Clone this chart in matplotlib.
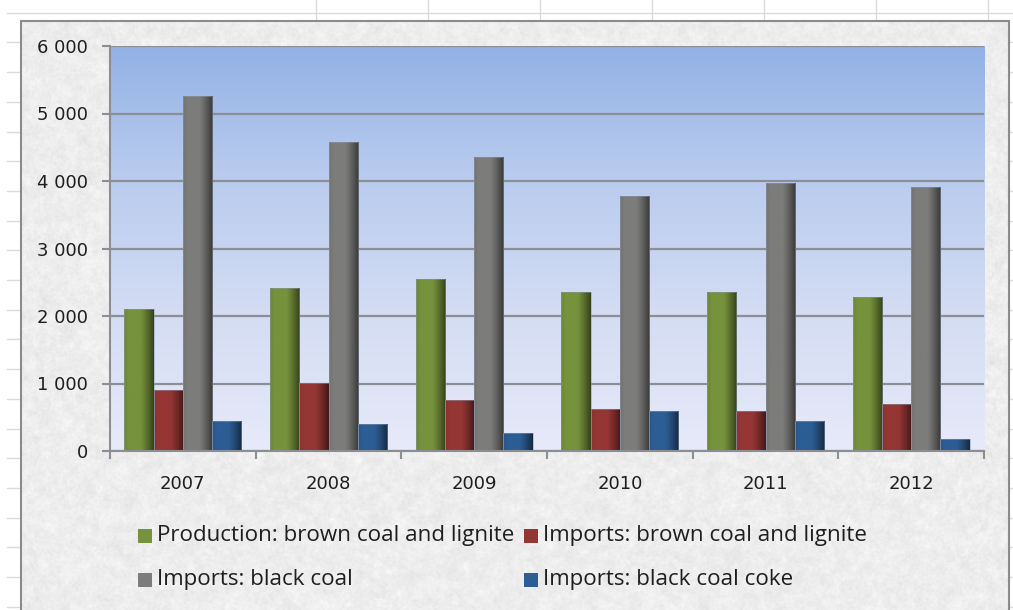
import numpy as np
import matplotlib
matplotlib.use("Agg")
import matplotlib.pyplot as plt
from matplotlib.patches import Rectangle
from matplotlib.lines import Line2D
from matplotlib.colors import to_rgb, LinearSegmentedColormap

# ---- data -------------------------------------------------------------
years = ["2007", "2008", "2009", "2010", "2011", "2012"]
series_names = [
    "Production: brown coal and lignite",
    "Imports: brown coal and lignite",
    "Imports: black coal",
    "Imports: black coal coke",
]
production_brown = [2100, 2410, 2545, 2360, 2360, 2280]
imports_brown = [910, 1010, 755, 620, 600, 700]
imports_black = [5260, 4580, 4355, 3780, 3965, 3915]
imports_coke = [445, 395, 265, 600, 445, 180]
y_ticks = [0, 1000, 2000, 3000, 4000, 5000, 6000]

series_values = [production_brown, imports_brown, imports_black, imports_coke]
series_colors = ["#76923c", "#943634", "#7c7d7a", "#2c5d94"]

# ---- figure in pixel units ---------------------------------------------
W, H = 1013, 610
fig = plt.figure(figsize=(W / 100, H / 100), dpi=100)
fig.patch.set_facecolor("white")


def fx(px):
    return px / W


def fy(py):
    return 1 - py / H


# worksheet cell grid behind the chart object
grid_col = "#d9dbde"
for k in range(22):
    yy = 12.7 + k * 29.7
    fig.add_artist(Line2D([fx(7), 1], [fy(yy), fy(yy)], color=grid_col, lw=1.0, zorder=0))
for k in range(7):
    xx = 316 + 112 * k
    fig.add_artist(Line2D([fx(xx), fx(xx)], [0, 1], color=grid_col, lw=1.0, zorder=0))

# chart area with a speckled stone texture
rng = np.random.default_rng(11)
th, tw = 600, 990
noise = rng.random((th, tw))
sm = noise.copy()
for dy in (-1, 0, 1):
    for dx in (-1, 0, 1):
        sm += np.roll(np.roll(noise, dy, 0), dx, 1)
sm /= 10.0
blob = rng.random((th // 6 + 1, tw // 6 + 1))
blob = np.kron(blob, np.ones((6, 6)))[:th, :tw]
b2 = blob.copy()
for dy in (-3, 0, 3):
    for dx in (-3, 0, 3):
        b2 += np.roll(np.roll(blob, dy, 0), dx, 1)
b2 /= 10.0
tex = 0.932 + 0.09 * (sm - 0.5) + 0.05 * (b2 - 0.5)
tex = np.clip(tex, 0.80, 1.0)

bgax = fig.add_axes([fx(21), 0, fx(1009) - fx(21), fy(21)], zorder=1)
bgax.imshow(np.dstack([tex, tex, tex]), extent=(0, 1, 0, 1), aspect="auto",
            interpolation="bilinear")
bgax.set_axis_off()
fig.add_artist(Rectangle((fx(21), fy(615)), fx(1009) - fx(21), fy(21) - fy(615),
                         fill=False, ec="#8b8b8b", lw=1.5, zorder=2))

# ---- plot area ---------------------------------------------------------
ax = fig.add_axes([fx(110), fy(451), fx(984) - fx(110), fy(46) - fy(451)], zorder=3)
ax.patch.set_alpha(0)

plot_bg = LinearSegmentedColormap.from_list(
    "plot_bg", [(0.0, "#e7eaf9"), (0.35, "#d3dcf3"), (0.7, "#b7caee"), (1.0, "#92b1e4")])
grad = np.linspace(0, 1, 256)[::-1].reshape(-1, 1)
ax.imshow(grad, cmap=plot_bg, extent=(0, 1, 0, 1), transform=ax.transAxes,
          aspect="auto", zorder=0, interpolation="bilinear")

n_groups = len(years)
x = np.arange(n_groups)
bar_w = 0.201
offsets = (np.arange(len(series_values)) - 1.5) * bar_w

# horizontal shading profile across each bar
t = np.linspace(0, 1, 64)
shade = np.where(t < 0.55, 0.93 + 0.07 * np.clip(t / 0.15, 0, 1),
                 1.0 - 0.55 * ((t - 0.55) / 0.45) ** 1.2)

for vals, col, off, name in zip(series_values, series_colors, offsets, series_names):
    bars = ax.bar(x + off, vals, width=bar_w, color=col, zorder=2, label=name,
                  linewidth=0)
    rgb = np.array(to_rgb(col))
    strip = np.clip(rgb[None, :] * shade[:, None], 0, 1)[None, :, :]
    for p in bars.patches:
        x0, w, h = p.get_x(), p.get_width(), p.get_height()
        im = ax.imshow(strip, extent=(x0, x0 + w, 0, h), aspect="auto",
                       zorder=3, interpolation="bilinear")
        im.set_clip_path(p)
        ax.add_patch(Rectangle((x0, 0), w, h, fill=False, ec=(0.55, 0.6, 0.68, 0.6),
                               lw=0.6, zorder=4))

ax.set_xlim(-0.5, n_groups - 0.5)
ax.set_ylim(0, 6000)

axis_col = "#8c8e94"
ax.yaxis.grid(True, color=axis_col, lw=1.6, zorder=1)
ax.set_axisbelow(True)
for s in ("top", "right"):
    ax.spines[s].set_visible(False)
for s in ("left", "bottom"):
    ax.spines[s].set_color(axis_col)
    ax.spines[s].set_linewidth(1.5)
    ax.spines[s].set_zorder(5)

tick_font = dict(family="DejaVu Sans")
ax.set_yticks(y_ticks)
ax.set_yticklabels([f"{v:,}".replace(",", " ") for v in y_ticks], **tick_font)
ax.tick_params(axis="y", length=6, width=1.5, color=axis_col, pad=10,
               labelsize=13, labelcolor="#1e1e1e")

ax.set_xticks(np.arange(n_groups + 1) - 0.5)
ax.set_xticklabels([])
ax.set_xticks(x, minor=True)
ax.set_xticklabels(years, minor=True, **tick_font)
ax.tick_params(axis="x", which="major", length=6, width=1.5, color=axis_col)
ax.tick_params(axis="x", which="minor", length=0, pad=17, labelsize=13,
               labelcolor="#1e1e1e")

# ---- legend -------------------------------------------------------------
legend_slots = [(138, 536), (524, 536), (138, 580), (524, 580)]
sq = 14
legend_font = "Open Sans"
legend_size = 16.1
for (lx, ly), col, name in zip(legend_slots, series_colors, series_names):
    fig.add_artist(Rectangle((fx(lx), fy(ly + sq / 2)), sq / W, sq / H,
                             fc=col, ec="none", zorder=6))
    fig.text(fx(lx + sq + 5), fy(ly), name, fontsize=legend_size, family=legend_font,
             color="#1e1e1e", va="center", ha="left", zorder=6)

fig.savefig("out.png", dpi=100)
